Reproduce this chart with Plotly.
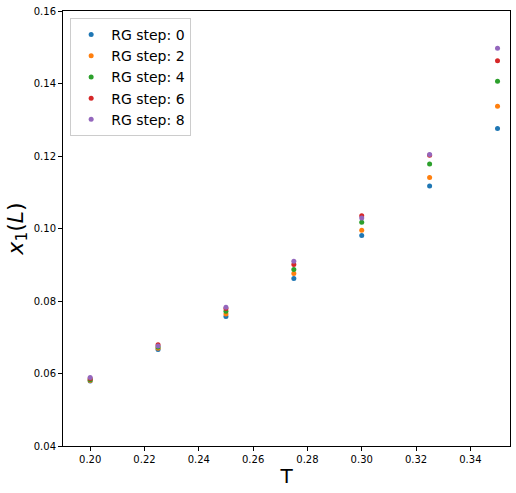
import plotly.graph_objects as go

T = [0.200, 0.225, 0.250, 0.275, 0.300, 0.325, 0.350]
step0 = [0.0579, 0.0666, 0.0757, 0.0862, 0.0981, 0.1117, 0.1276]
step2 = [0.0581, 0.0670, 0.0764, 0.0876, 0.0995, 0.1141, 0.1337]
step4 = [0.0583, 0.0673, 0.0772, 0.0887, 0.1017, 0.1178, 0.1406]
step6 = [0.0586, 0.0679, 0.0779, 0.0901, 0.1035, 0.1202, 0.1463]
step8 = [0.0589, 0.0676, 0.0783, 0.0910, 0.1029, 0.1204, 0.1497]
series_names = ["RG step: 0", "RG step: 2", "RG step: 4", "RG step: 6", "RG step: 8"]
colors = ["#1f77b4", "#ff7f0e", "#2ca02c", "#d62728", "#9467bd"]

x_ticks = [0.20, 0.22, 0.24, 0.26, 0.28, 0.30, 0.32, 0.34]
y_ticks = [0.04, 0.06, 0.08, 0.10, 0.12, 0.14, 0.16]

fig = go.Figure()
for name, ys, c in zip(series_names, [step0, step2, step4, step6, step8], colors):
    fig.add_trace(go.Scatter(x=T, y=ys, mode="markers", name=name,
                             marker=dict(color=c, size=5, line=dict(width=0))))

font = "DejaVu Sans, sans-serif"
axis_common = dict(showgrid=False, zeroline=False, showline=True, linecolor="black",
                   linewidth=1, mirror=True, ticks="outside", ticklen=4, tickwidth=1,
                   tickcolor="black", automargin=False, ticklabeloverflow="allow",
                   tickfont=dict(family=font, size=10, color="black"))

fig.update_layout(
    width=516, height=493,
    margin=dict(l=63, r=6, t=11, b=47),
    paper_bgcolor="white", plot_bgcolor="white",
    font=dict(family=font, color="black"),
    xaxis=dict(range=[0.1900, 0.3546], tickvals=x_ticks,
               ticktext=[f"{v:.2f}" for v in x_ticks],
               title=dict(text="T", font=dict(size=20, family=font), standoff=4),
               **axis_common),
    yaxis=dict(range=[0.04, 0.16], tickvals=y_ticks,
               ticktext=[f"{v:.2f}" for v in y_ticks],
               title=dict(text="<i>x</i><sub>1</sub>(<i>L</i>)", font=dict(size=22, family=font), standoff=4),
               **axis_common),
    legend=dict(x=0.016, y=0.984, xanchor="left", yanchor="top",
                bgcolor="rgba(255,255,255,0.8)", bordercolor="#cccccc", borderwidth=1,
                font=dict(size=14, family=font), itemsizing="trace",
                tracegroupgap=0),
    showlegend=True,
)

fig.write_html("out.html", config={"displayModeBar": False},
               post_script="document.body.style.margin='0';")
